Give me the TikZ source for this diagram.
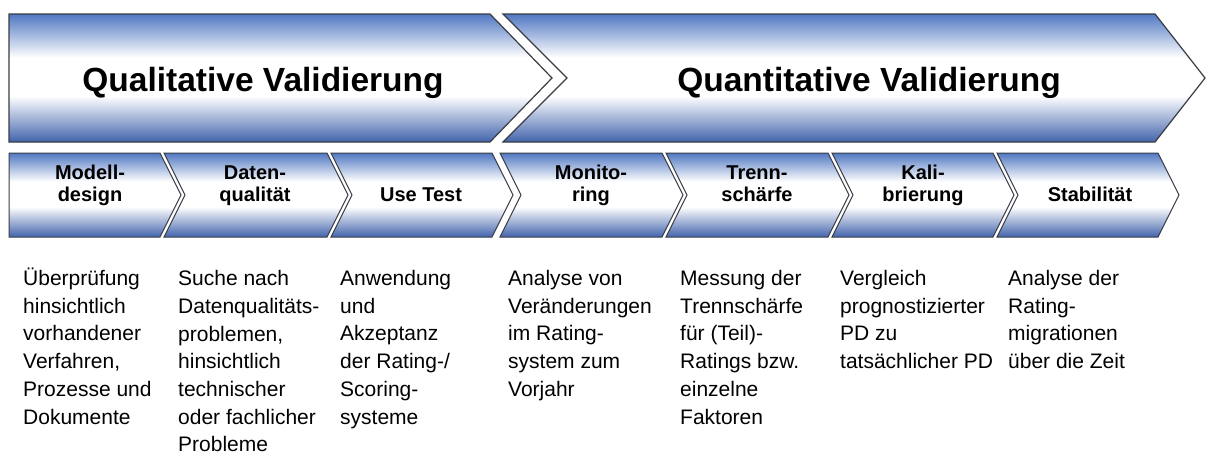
\documentclass[tikz,border=0pt]{standalone}
\usepackage{fontspec}
\setmainfont{Liberation Sans}
\definecolor{bluetop}{RGB}{80,120,194}
\definecolor{bluebot}{RGB}{66,100,172}
\definecolor{edgecol}{RGB}{58,60,68}
\pgfdeclareverticalshading{band}{100bp}{color(0bp)=(bluebot); color(25bp)=(bluebot); color(43bp)=(white); color(58bp)=(white); color(75bp)=(bluetop); color(100bp)=(bluetop)}
\tikzset{
  bigarrow/.style={draw=edgecol, line width=1.2pt, shading=band},
  chev/.style={draw=edgecol, line width=1pt, shading=band},
  titletext/.style={font=\fontsize{33.5}{40}\selectfont\bfseries, anchor=base, inner sep=0},
  lbl/.style={font=\fontsize{20}{22}\selectfont\bfseries, align=center, inner sep=0, anchor=center},
  desc/.style={font=\fontsize{21}{27.7}\selectfont, align=left, anchor=north west, inner sep=0}
}
\begin{document}
\begin{tikzpicture}[x=1pt,y=-1pt]
\useasboundingbox[fill=white] (0,0) rectangle (1206,464);
% big arrows
\path[bigarrow] (9,14) -- (490,14) -- (552,78) -- (490,142) -- (9,142) -- cycle;
\path[bigarrow] (503,14) -- (1155,14) -- (1205,78) -- (1155,142) -- (503,142) -- (567,78) -- cycle;
\node[titletext] (qual) at (263,91) {Qualitative Validierung};
\node[titletext] (quant) at (869,91) {Quantitative Validierung};
% small chevrons
\path[chev] (9,153) -- (160,153) -- (181,195) -- (160,237) -- (9,237) -- cycle;
\foreach \l/\r in {164/327, 331/492, 500/662, 666/828, 832/993, 997/1158}{
  \path[chev] (\l,153) -- (\r,153) -- ({\r+21},195) -- (\r,237) -- (\l,237) -- ({\l+21},195) -- cycle;
}
\node[lbl] (c1) at (90,186) {\strut Modell-\\design\strut};
\node[lbl] (c2) at (255,186) {\strut Daten-\\qualität\strut};
\node[lbl] (c3) at (421,197) {\strut Use Test\strut};
\node[lbl] (c4) at (591,186) {\strut Monito-\\ring\strut};
\node[lbl] (c5) at (757,186) {\strut Trenn-\\schärfe\strut};
\node[lbl] (c6) at (923,186) {\strut Kali-\\brierung\strut};
\node[lbl] (c7) at (1090,197) {\strut Stabilität\strut};
% descriptions
\node[desc] (d1) at (23,266) {\strut Überprüfung\\hinsichtlich\\vorhandener\\Verfahren,\\Prozesse und\\Dokumente};
\node[desc] (d2) at (178,266) {\strut Suche nach\\Datenqualitäts-\\problemen,\\hinsichtlich\\technischer\\oder fachlicher\\Probleme};
\node[desc] (d3) at (340,266) {\strut Anwendung\\und\\Akzeptanz\\der Rating-/\\Scoring-\\systeme};
\node[desc] (d4) at (508,266) {\strut Analyse von\\Veränderungen\\im Rating-\\system zum\\Vorjahr};
\node[desc] (d5) at (680,266) {\strut Messung der\\Trennschärfe\\für (Teil)-\\Ratings bzw.\\einzelne\\Faktoren};
\node[desc] (d6) at (840,266) {\strut Vergleich\\prognostizierter\\PD zu\\tatsächlicher PD};
\node[desc] (d7) at (1008,266) {\strut Analyse der\\Rating-\\migrationen\\über die Zeit};
\end{tikzpicture}
\end{document}
